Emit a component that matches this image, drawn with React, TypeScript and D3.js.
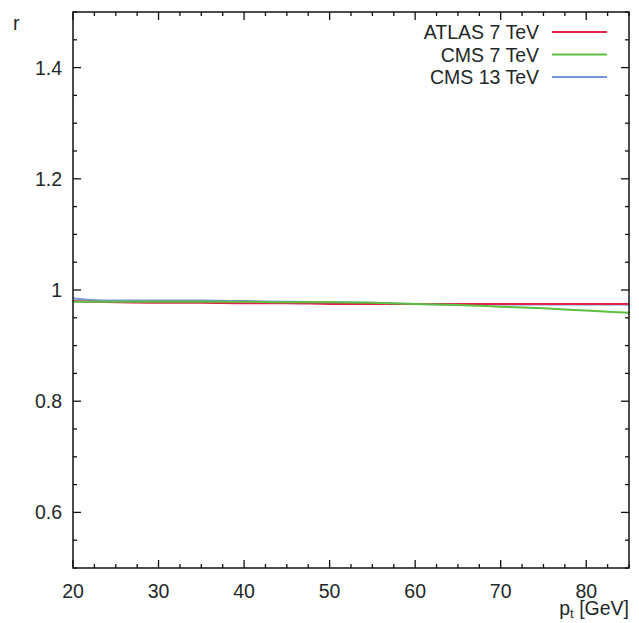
import * as d3 from 'd3'

const xTicks = [20, 30, 40, 50, 60, 70, 80]
const yTicks = [0.6, 0.8, 1.0, 1.2, 1.4]
const yTickLabels = ['0.6', '0.8', '1', '1.2', '1.4']

const ptValues = [20, 22, 25, 30, 35, 40, 45, 50, 55, 60, 65, 70, 75, 80, 85]
const atlas7 = [0.980, 0.979, 0.978, 0.977, 0.977, 0.976, 0.976, 0.975, 0.975, 0.975, 0.975, 0.975, 0.975, 0.975, 0.975]
const cms7 = [0.979, 0.979, 0.979, 0.979, 0.979, 0.979, 0.978, 0.978, 0.977, 0.975, 0.973, 0.970, 0.967, 0.963, 0.959]
const cms13 = [0.985, 0.982, 0.981, 0.981, 0.981, 0.980, 0.979, 0.978, 0.977, 0.975, 0.974, 0.974, 0.974, 0.974, 0.974]

const series = [
  { name: 'CMS 13 TeV', values: cms13, color: '#7597d6' },
  { name: 'ATLAS 7 TeV', values: atlas7, color: '#e2234b' },
  { name: 'CMS 7 TeV', values: cms7, color: '#5cbf40' },
]
const legendOrder = ['ATLAS 7 TeV', 'CMS 7 TeV', 'CMS 13 TeV']

export default function App() {
  const width = 639
  const height = 623
  const margin = { top: 12, right: 10, bottom: 55, left: 73 }
  const x = d3.scaleLinear().domain([20, 85]).range([margin.left, width - margin.right])
  const y = d3.scaleLinear().domain([0.5, 1.5]).range([height - margin.bottom, margin.top])
  const x0 = x.range()[0], x1 = x.range()[1]
  const y0 = y.range()[0], y1 = y.range()[1]

  const line = d3.line<number>()
    .x((_, i) => x(ptValues[i]))
    .y(d => y(d))
    .curve(d3.curveMonotoneX)

  const xMinor = d3.range(20, 85.01, 2.5).filter(v => !xTicks.includes(v))
  const yMinor = d3.range(0.5, 1.501, 0.05).filter(v => !yTicks.some(t => Math.abs(t - v) < 1e-6))

  const font = 'Liberation Sans, Arial, sans-serif'
  const textColor = '#1e2828'
  const axisColor = '#111'

  return (
    <svg width={width} height={height} style={{ position: 'absolute', left: 0, top: 0, background: '#fff' }}>
      {/* curves */}
      <g fill="none" strokeWidth={2}>
        {series.map(s => (
          <path key={s.name} d={line(s.values) || ''} stroke={s.color} />
        ))}
      </g>

      {/* ticks, mirrored on all sides */}
      <g stroke={axisColor} strokeWidth={1.3}>
        {xTicks.map(v => (
          <g key={'xt' + v}>
            <line x1={x(v)} x2={x(v)} y1={y0} y2={y0 - 8} />
            <line x1={x(v)} x2={x(v)} y1={y1} y2={y1 + 8} />
          </g>
        ))}
        {xMinor.map(v => (
          <g key={'xm' + v}>
            <line x1={x(v)} x2={x(v)} y1={y0} y2={y0 - 4} />
            <line x1={x(v)} x2={x(v)} y1={y1} y2={y1 + 4} />
          </g>
        ))}
        {yTicks.map(v => (
          <g key={'yt' + v}>
            <line x1={x0} x2={x0 + 8} y1={y(v)} y2={y(v)} />
            <line x1={x1} x2={x1 - 8} y1={y(v)} y2={y(v)} />
          </g>
        ))}
        {yMinor.map(v => (
          <g key={'ym' + v}>
            <line x1={x0} x2={x0 + 4} y1={y(v)} y2={y(v)} />
            <line x1={x1} x2={x1 - 4} y1={y(v)} y2={y(v)} />
          </g>
        ))}
      </g>

      {/* frame */}
      <rect x={x0} y={y1} width={x1 - x0} height={y0 - y1} fill="none" stroke={axisColor} strokeWidth={1.5} />

      {/* tick labels */}
      <g fontFamily={font} fontSize={19.5} fill={textColor}>
        {xTicks.map(v => (
          <text key={'xl' + v} x={x(v)} y={598} textAnchor="middle">{v}</text>
        ))}
        {yTicks.map((v, i) => (
          <text key={'yl' + v} x={62} y={y(v)} textAnchor="end" dominantBaseline="central">{yTickLabels[i]}</text>
        ))}
        <text x={13} y={30}>r</text>
        <text x={x1} y={615} textAnchor="end">
          p<tspan fontSize={13} dy={3}>t</tspan><tspan dy={-3}> [GeV]</tspan>
        </text>
      </g>

      {/* legend */}
      <g fontFamily={font} fontSize={19.5} fill={textColor}>
        {legendOrder.map((name, i) => {
          const s = series.find(d => d.name === name)!
          const ly = 32 + i * 22.5
          return (
            <g key={name}>
              <text x={539} y={ly} textAnchor="end" dominantBaseline="central">{name}</text>
              <line x1={552} x2={607} y1={ly} y2={ly} stroke={s.color} strokeWidth={2} />
            </g>
          )
        })}
      </g>
    </svg>
  )
}
